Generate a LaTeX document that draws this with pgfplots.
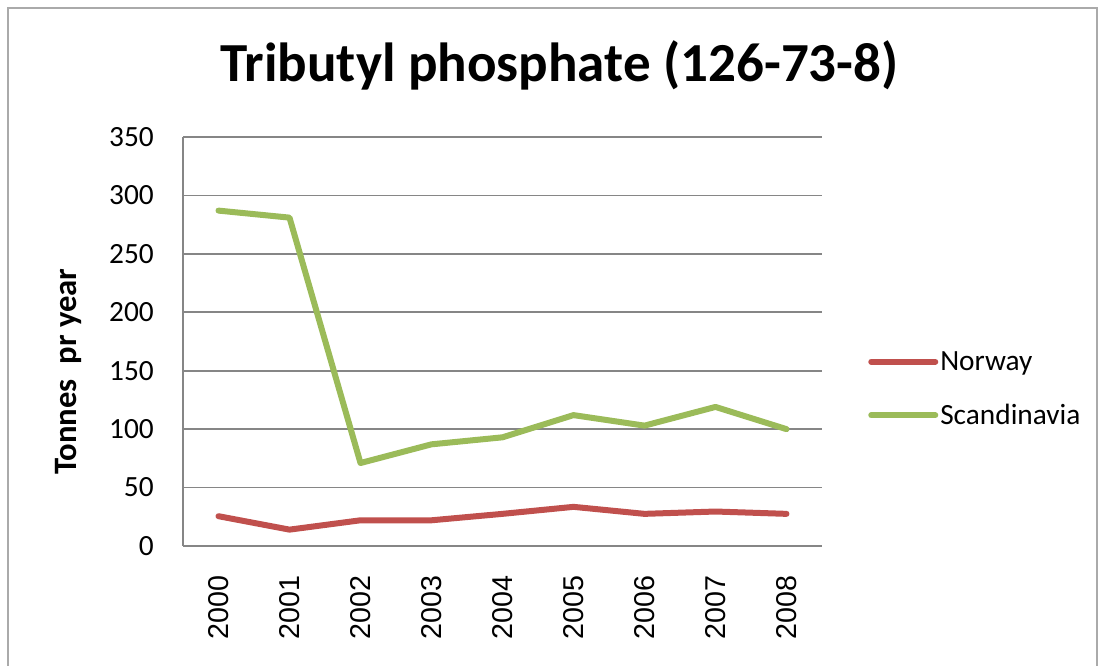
\documentclass[border=0pt]{standalone}
\usepackage{fontspec}
\setmainfont{Carlito}
\newfontfamily\libsans{Liberation Sans}
\usepackage{pgfplots}
\pgfplotsset{compat=1.18}

\definecolor{norway}{HTML}{C0504D}
\definecolor{scand}{HTML}{9BBB59}
\definecolor{gridgray}{HTML}{868686}

\begin{document}
\begin{tikzpicture}[x=0.75pt,y=0.75pt]
\useasboundingbox (0,0) rectangle (1102,666);
% outer chart frame
\draw[gridgray!70, line width=1.2pt] (8,0) -- (8,658) -- (1097,658) -- (1097,0);

\begin{axis}[
    at={(137.25pt,90pt)}, anchor=south west,
    scale only axis,
    width=479.25pt, height=306.75pt,
    xmin=-0.5, xmax=8.5,
    ymin=0, ymax=350,
    ytick={0,50,...,350},
    xtick={0,...,8},
    xticklabels={2000,2001,2002,2003,2004,2005,2006,2007,2008},
    major tick length=0pt,
    axis x line*=bottom, axis y line*=left,
    axis line style={gridgray, line width=1.7pt},
    ymajorgrids, grid style={gridgray, line width=1.3pt},
    /pgf/number format/assume math mode=true,
    yticklabel style={font=\fontsize{22}{24}\selectfont, inner sep=0pt, xshift=-21.75pt, anchor=east},
    xticklabel style={font=\libsans\fontsize{21.5}{24}\selectfont, inner sep=0pt, yshift=-21.75pt, rotate=90, anchor=east},
    title={Tributyl phosphate (126-73-8)},
    title style={at={(axis description cs:0.589,1.155)}, anchor=center, font=\bfseries\fontsize{41.3}{46}\selectfont},
    ylabel={Tonnes\ \ pr year},
    ylabel style={at={(axis description cs:-0.18,0.4267)}, anchor=center, rotate=0, font=\bfseries\fontsize{24.5}{28}\selectfont},
    legend style={draw=none, fill=none, at={(1.072,0.384)}, anchor=west,
        font=\fontsize{22}{26}\selectfont, inner sep=0pt, row sep=21pt,
        nodes={inner sep=1.5pt}},
    legend cell align=left,
    legend image code/.code={\draw[#1, line cap=round] (0pt,0pt) -- (48pt,0pt);},
    every axis plot/.append style={line width=4.5pt, line join=round, line cap=round},
    clip=false,
]
\addplot[norway] coordinates {(0,25.5)(1,14)(2,22)(3,22)(4,27.5)(5,33.5)(6,27.5)(7,29.5)(8,27.5)};
\addlegendentry{Norway}
\addplot[scand] coordinates {(0,287)(1,281)(2,71)(3,87)(4,93)(5,112)(6,103)(7,119)(8,100)};
\addlegendentry{Scandinavia}
\end{axis}
\end{tikzpicture}
\end{document}
